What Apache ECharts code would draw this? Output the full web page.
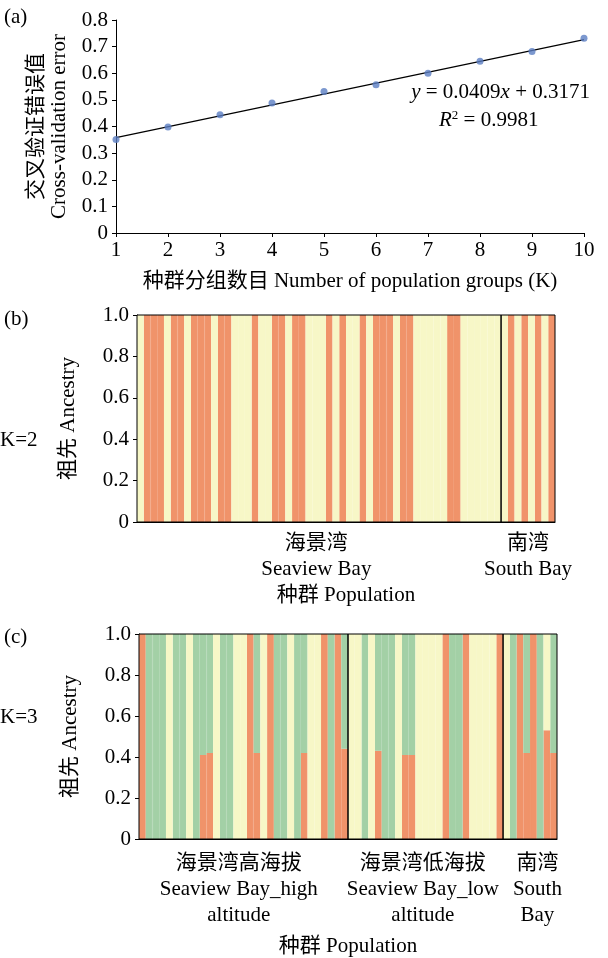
<!DOCTYPE html>
<html>
<head>
<meta charset="utf-8">
<script src="https://cdn.jsdelivr.net/npm/echarts@6/dist/echarts.min.js"></script>
<style>
  html, body { margin: 0; padding: 0; background: #fff; }
  #chart { width: 608px; height: 958px; }
</style>
</head>
<body>
<div id="chart"></div>
<script>
const FONT = '"Liberation Serif", "Times New Roman", "Noto Sans CJK SC", serif';

// (a) cross-validation error by K
const kValues = [1, 2, 3, 4, 5, 6, 7, 8, 9, 10];
const cvError = [0.351, 0.398, 0.444, 0.488, 0.531, 0.557, 0.6, 0.645, 0.682, 0.731];
const trendX = [1, 10];
const trendY = [0.358, 0.726];
const cvTicks = [0, 0.1, 0.2, 0.3, 0.4, 0.5, 0.6, 0.7, 0.8];

// (b) K=2 ancestry, 62 individuals
const k2Groups = [54, 8];
const k2Labels = ['海景湾\nSeaview Bay', '南湾\nSouth Bay'];
const k2LabelPos = [26.6, 58];
const k2Orange = [
  0, 1, 1, 1, 0, 1, 1, 0, 1, 1, 1, 0, 1, 1, 0, 0, 0, 1, 0, 0,
  1, 1, 0, 1, 1, 0, 0, 0, 1, 0, 1, 0, 0, 1, 0, 1, 1, 1, 0, 1,
  1, 0, 0, 0, 0, 0, 1, 1, 0, 0, 0, 0, 0, 0,
  0, 1, 0, 1, 0, 1, 0, 1
];
const k2Yellow = [
  1, 0, 0, 0, 1, 0, 0, 1, 0, 0, 0, 1, 0, 0, 1, 1, 1, 0, 1, 1,
  0, 0, 1, 0, 0, 1, 1, 1, 0, 1, 0, 1, 1, 0, 1, 0, 0, 0, 1, 0,
  0, 1, 1, 1, 1, 1, 0, 0, 1, 1, 1, 1, 1, 1,
  1, 0, 1, 0, 1, 0, 1, 0
];

// (c) K=3 ancestry
const k3Groups = [31, 23, 8];
const k3Labels = ['海景湾高海拔\nSeaview Bay_high\naltitude', '海景湾低海拔\nSeaview Bay_low\naltitude', '南湾\nSouth\nBay'];
const k3LabelPos = [14.8, 42.1, 59.1];
const k3Orange = [
  1, 0, 0, 0, 0, 0, 0, 0, 0, 0.41, 0.42, 0, 0, 0, 0, 0, 1, 0.42, 0, 1,
  0, 0, 0, 0, 0.42, 0, 0, 1, 0, 1, 0.44,
  0, 0, 0, 0, 0.43, 0, 0, 0, 0.41, 0.41, 0, 0, 0, 0, 1, 0, 0, 1, 0, 0, 0, 0, 1,
  0, 0, 1, 0.42, 1, 0, 0.53, 0.42
];
const k3Green = [
  0, 1, 1, 1, 0, 1, 1, 0, 1, 0.59, 0.58, 0, 1, 1, 0, 0, 0, 0.58, 0, 0,
  1, 1, 0, 1, 0.58, 0, 0, 0, 1, 0, 0.56,
  0, 0, 1, 0, 0.57, 1, 1, 0, 0.59, 0.59, 0, 0, 0, 0, 0, 1, 1, 0, 0, 0, 0, 0, 0,
  0, 1, 0, 0.58, 0, 1, 0, 0.58
];
const k3Yellow = [
  0, 0, 0, 0, 1, 0, 0, 1, 0, 0, 0, 1, 0, 0, 1, 1, 0, 0, 1, 0,
  0, 0, 1, 0, 0, 1, 1, 0, 0, 0, 0,
  1, 1, 0, 1, 0, 0, 0, 1, 0, 0, 1, 1, 1, 1, 0, 0, 0, 0, 1, 1, 1, 1, 0,
  1, 0, 0, 0, 0, 0, 0.47, 0
];

const ORANGE = '#f0936a';
const YELLOW = '#f7f7c7';
const GREEN = '#a3d0a6';
const DOT = '#5b7ec3';

const FS = 21;
const txt = { fontFamily: FONT, fontSize: FS, color: '#000' };
const blackLine = { lineStyle: { color: '#000', width: 1 } };
const fmtTick = (v) => (v === 0 ? '0' : v.toFixed(1));

const individuals = (n) => Array.from({ length: n }, (_, i) => `${i + 1}`);
const total = k2Orange.length;

// group boundaries -> vertical separator line series
const separators = (groups, xAxisIndex, yAxisIndex) => {
  const out = [];
  let acc = 0;
  groups.slice(0, -1).forEach((g) => {
    acc += g;
    out.push({
      type: 'line',
      xAxisIndex,
      yAxisIndex,
      data: [[acc, 0], [acc, 1]],
      symbol: 'none',
      lineStyle: { color: '#000', width: 1.5 },
      z: 5,
      silent: true,
    });
  });
  return out;
};

// zero shares are left out so the same-colour border does not draw slivers
const barSeries = (name, data, color, stack, xAxisIndex, yAxisIndex) => ({
  name,
  type: 'bar',
  stack,
  xAxisIndex,
  yAxisIndex,
  data: data.map((v) => (v === 0 ? '-' : v)),
  barCategoryGap: '0%',
  itemStyle: { color, borderColor: color, borderWidth: 1.4 },
  silent: true,
});

const ancestryYAxis = (gridIndex) => ({
  type: 'value',
  gridIndex,
  min: 0,
  max: 1,
  interval: 0.2,
  name: '祖先 Ancestry',
  nameLocation: 'middle',
  nameRotate: 90,
  nameGap: 58,
  nameTextStyle: txt,
  axisLine: { show: true, ...blackLine },
  axisTick: { show: true, length: 4, ...blackLine },
  axisLabel: { ...txt, margin: 8, formatter: fmtTick },
  splitLine: { show: false },
});

const groupLabelAxis = (gridIndex, positions, labels, margin) => ({
  type: 'value',
  gridIndex,
  position: 'bottom',
  min: 0,
  max: total,
  axisLine: { show: false },
  axisTick: { show: false },
  splitLine: { show: false },
  axisLabel: {
    ...txt,
    lineHeight: 26,
    margin,
    customValues: positions,
    formatter: (v) => labels[positions.indexOf(v)] || '',
  },
});

const populationAxis = (gridIndex, nameGap) => ({
  type: 'category',
  gridIndex,
  position: 'bottom',
  data: individuals(total),
  name: '种群 Population',
  nameLocation: 'middle',
  nameGap,
  nameTextStyle: txt,
  axisLine: { show: true, ...blackLine },
  axisTick: { show: false },
  axisLabel: { show: false },
});

const option = {
  animation: false,
  backgroundColor: '#fff',
  textStyle: { fontFamily: FONT },
  grid: [
    { left: 116, top: 20, width: 468, height: 213 },
    { left: 137, top: 315, width: 418, height: 207, show: true, borderColor: '#000', borderWidth: 1, z: 10 },
    { left: 139, top: 634, width: 418, height: 206, show: true, borderColor: '#000', borderWidth: 1, z: 10 },
  ],
  xAxis: [
    {
      type: 'value',
      gridIndex: 0,
      min: kValues[0],
      max: kValues[kValues.length - 1],
      interval: 1,
      name: '种群分组数目 Number of population groups (K)',
      nameLocation: 'middle',
      nameGap: 38,
      nameTextStyle: txt,
      axisLine: { show: true, ...blackLine },
      axisTick: { show: true, length: 4, ...blackLine },
      axisLabel: { ...txt, margin: 7 },
      splitLine: { show: false },
    },
    populationAxis(1, 63),
    populationAxis(2, 97),
    groupLabelAxis(1, k2LabelPos, k2Labels, 8),
    groupLabelAxis(2, k3LabelPos, k3Labels, 11),
  ],
  yAxis: [
    {
      type: 'value',
      gridIndex: 0,
      min: cvTicks[0],
      max: cvTicks[cvTicks.length - 1],
      interval: 0.1,
      name: '交叉验证错误值\nCross-validation error',
      nameLocation: 'middle',
      nameRotate: 90,
      nameGap: 42,
      nameTextStyle: { ...txt, lineHeight: 23 },
      axisLine: { show: true, ...blackLine },
      axisTick: { show: true, length: 4, ...blackLine },
      axisLabel: { ...txt, margin: 8, formatter: fmtTick },
      splitLine: { show: false },
    },
    ancestryYAxis(1),
    ancestryYAxis(2),
  ],
  series: [
    {
      type: 'line',
      xAxisIndex: 0,
      yAxisIndex: 0,
      data: trendX.map((x, i) => [x, trendY[i]]),
      symbol: 'none',
      lineStyle: { color: '#000', width: 1.2 },
      z: 2,
    },
    {
      type: 'scatter',
      xAxisIndex: 0,
      yAxisIndex: 0,
      data: kValues.map((k, i) => [k, cvError[i]]),
      symbolSize: 7,
      itemStyle: { color: DOT },
      z: 3,
    },
    barSeries('orange', k2Orange, ORANGE, 'k2', 1, 1),
    barSeries('yellow', k2Yellow, YELLOW, 'k2', 1, 1),
    ...separators(k2Groups, 3, 1),
    barSeries('orange', k3Orange, ORANGE, 'k3', 2, 2),
    barSeries('green', k3Green, GREEN, 'k3', 2, 2),
    barSeries('yellow', k3Yellow, YELLOW, 'k3', 2, 2),
    ...separators(k3Groups, 4, 2),
  ],
  graphic: [
    { type: 'text', left: 4, top: 7, style: { text: '(a)', font: `${FS}px ${FONT}`, fill: '#000' } },
    { type: 'text', left: 4, top: 309, style: { text: '(b)', font: `${FS}px ${FONT}`, fill: '#000' } },
    { type: 'text', left: 4, top: 627, style: { text: '(c)', font: `${FS}px ${FONT}`, fill: '#000' } },
    { type: 'text', left: 0, top: 430, style: { text: 'K=2', font: `${FS}px ${FONT}`, fill: '#000' } },
    { type: 'text', left: 0, top: 707, style: { text: 'K=3', font: `${FS}px ${FONT}`, fill: '#000' } },
    {
      type: 'text',
      right: 18,
      top: 82,
      style: {
        text: '{i|y} = 0.0409{i|x} + 0.3171',
        font: `${FS}px ${FONT}`,
        fill: '#000',
        rich: { i: { fontStyle: 'italic', fontFamily: FONT, fontSize: FS } },
      },
    },
    {
      type: 'text',
      left: 439,
      top: 109,
      style: {
        text: '{i|R}{s|2} = 0.9981',
        font: `${FS}px ${FONT}`,
        fill: '#000',
        rich: {
          i: { fontStyle: 'italic', fontFamily: FONT, fontSize: FS },
          s: { fontFamily: FONT, fontSize: 13, padding: [0, 0, 9, 0] },
        },
      },
    },
  ],
};

const chart = echarts.init(document.getElementById('chart'), null, { renderer: 'canvas' });
chart.setOption(option);
</script>
</body>
</html>
